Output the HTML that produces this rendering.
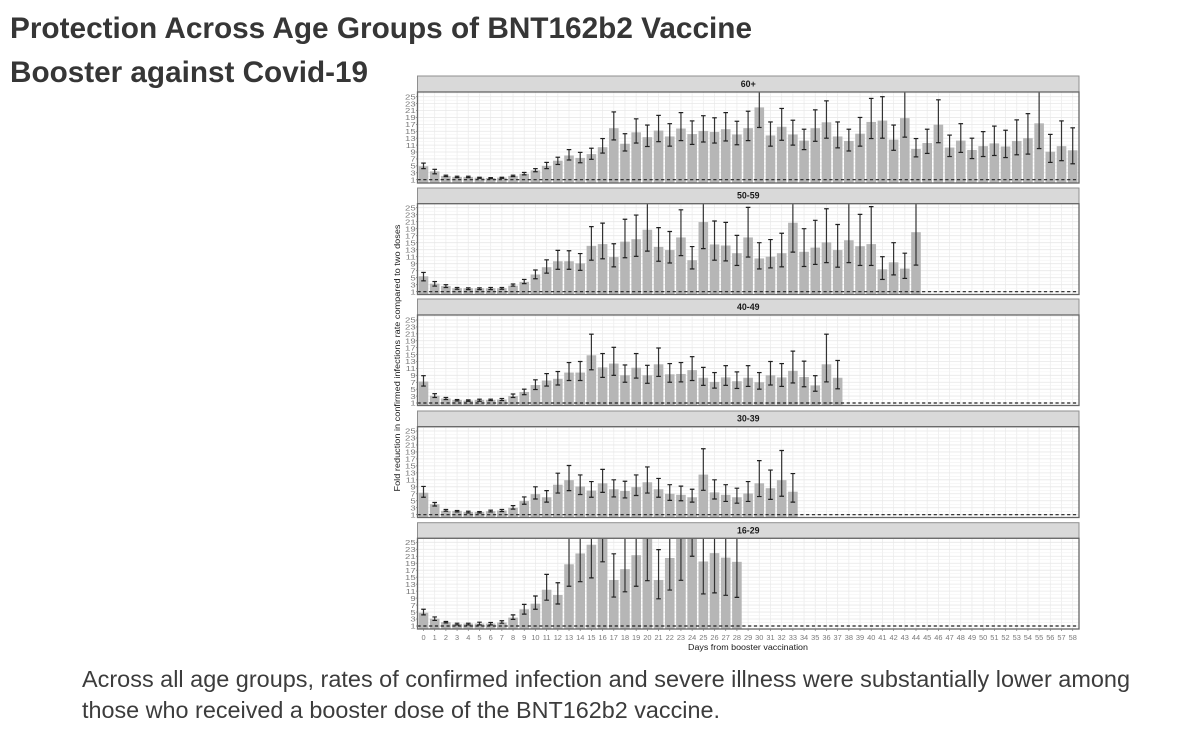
<!DOCTYPE html>
<html lang="en">
<head>
<meta charset="utf-8">
<title>Protection Across Age Groups of BNT162b2 Vaccine Booster against Covid-19</title>
<style>
html,body{margin:0;padding:0;background:#fff;width:1200px;height:730px;overflow:hidden}
svg{display:block;font-family:"Liberation Sans",Arial,sans-serif}
</style>
</head>
<body>
<svg id="slide" width="1200" height="730" viewBox="0 0 1200 730" xmlns="http://www.w3.org/2000/svg">
  <rect x="0" y="0" width="1200" height="730" fill="#ffffff"/>
  <g font-weight="700" font-size="30" fill="#363636">
    <text x="10" y="38" textLength="742" lengthAdjust="spacingAndGlyphs">Protection Across Age Groups of BNT162b2 Vaccine</text>
    <text x="10" y="82" textLength="358" lengthAdjust="spacingAndGlyphs">Booster against Covid-19</text>
  </g>
  <g id="chart"></g>
  <text transform="translate(400,358) rotate(-90)" text-anchor="middle" font-size="8.6" fill="#1a1a1a" textLength="267" lengthAdjust="spacingAndGlyphs">Fold reduction in confirmed infections rate compared to two doses</text>
  <text x="748" y="650" text-anchor="middle" font-size="8.6" fill="#1a1a1a" textLength="120" lengthAdjust="spacingAndGlyphs">Days from booster vaccination</text>
  <g font-size="23" fill="#3c3c3c">
    <text x="82" y="687" textLength="1048" lengthAdjust="spacingAndGlyphs">Across all age groups, rates of confirmed infection and severe illness were substantially lower among</text>
    <text x="82" y="718" textLength="638" lengthAdjust="spacingAndGlyphs">those who received a booster dose of the BNT162b2 vaccine.</text>
  </g>
</svg>
<script>
const days = [0,1,2,3,4,5,6,7,8,9,10,11,12,13,14,15,16,17,18,19,20,21,22,23,24,25,26,27,28,29,30,31,32,33,34,35,36,37,38,39,40,41,42,43,44,45,46,47,48,49,50,51,52,53,54,55,56,57,58];
const yTicks = [1,3,5,7,9,11,13,15,17,19,21,23,25];
const referenceValue = 1;
const ageGroups = ['60+','50-59','40-49','30-39','16-29'];

const mean60 = [4.9,3.4,2.1,1.8,1.8,1.6,1.5,1.6,2.1,2.7,3.7,5,6.5,8,7.3,8.4,10.4,15.9,11.4,14.7,13.3,15.2,13.5,15.8,14.2,15.1,14.8,15.6,14.1,15.9,21.9,13.8,16.3,14.1,12.3,15.9,17.6,13.5,12.2,14.3,17.7,18.1,12.6,18.8,9.9,11.6,16.9,10.3,12.3,9.6,10.7,11.5,10.6,12.2,13,17.3,9.1,10.7,9.5];
const low60 = [4.2,2.7,1.9,1.6,1.6,1.4,1.3,1.4,1.9,2.4,3.3,4.2,5.4,6.7,5.9,6.9,8.7,12.5,9.3,11.6,10.6,12,10.7,12.3,11.2,11.9,11.6,12.2,11.1,12.3,16.1,10.7,12.4,11,9.7,12.1,13,10.2,9.3,10.7,12.9,13,9.5,13.3,7.6,8.6,11.7,7.7,8.9,7.1,7.7,8,7.4,8.2,8.4,10,6,6.5,5.6];
const high60 = [5.8,4,2.3,2,2,1.7,1.6,1.7,2.3,3.1,4.2,6,7.5,9.7,8.9,10.1,12.9,20.6,14.3,18.6,16.8,19.6,17.2,20.4,18,19.5,18.9,20.4,17.9,20.8,27,17.7,21.6,18.2,15.6,21.2,23.8,17.7,15.6,19,24.5,25,16.8,27,12.9,15.6,24.1,13.9,17.2,13,14.9,16.5,15.3,18.3,20.1,27,14.1,18,16];

const mean50 = [5.4,3.3,2.6,2,2,2,2,2,2.7,3.8,5.9,8,9.7,9.7,9.1,14.1,14.6,10.9,15.3,16,18.7,13.8,12.9,16.5,10,20.9,14.5,14.2,12,16.5,10.5,11,12,20.7,12.4,13.6,15.1,12.9,15.7,14,14.6,7.4,9.4,7.6,18];
const low50 = [4.1,2.6,2.2,1.7,1.6,1.6,1.6,1.7,2.6,3.3,4.7,6.3,7.4,7.4,7.1,10,10.4,8.1,10.7,11.1,12.6,9.7,9.2,11.3,7.5,13.3,10,9.8,8.5,10.9,7.5,7.8,8.1,12.3,8.2,8.8,9.3,8,9.3,8.5,8.5,4.5,5.8,4.8,8.6];
const high50 = [6.5,3.9,3,2.2,2.1,2.1,2.2,2.2,3.2,4.5,7.2,10.1,12.8,12.7,11.9,19.6,20.6,14.7,21.7,22.9,27,19.3,18.2,24.4,13.9,27,21.2,20.8,17.1,25.1,15,15.9,17.7,27,19,21.4,24.7,20.2,27,23.1,25.3,11,15,12,27];

const mean40 = [7.2,3.1,2.3,1.9,1.7,1.9,1.9,2,3,4.2,6.2,7.5,8,9.8,9.8,14.8,11.3,12.4,9,11.2,9,12.2,9.3,9.4,10.5,8.3,7.1,8.4,7.3,8.3,7,9,8.4,10.3,8.5,6.1,12.2,8.3];
const low40 = [5.9,2.6,2,1.6,1.5,1.5,1.7,1.7,2.6,3.4,4.9,5.9,6.2,7.5,7.5,10.6,8.4,9,7,8.2,6.7,8.7,7,7.1,7.5,6.1,5.3,6.1,5.2,5.8,5,6.2,5.8,6.8,5.7,4.4,7.1,5.1];
const high40 = [8.9,3.7,2.6,2,1.9,2.1,2.1,2.3,3.6,5,7.7,9.5,10.1,12.7,13,20.9,15.3,17.1,12,15.3,11.9,16.9,12.4,12.7,14.4,11.3,9.8,11.8,10,11.8,9.8,13,12.4,16,13.1,8.9,20.9,13.3];

const mean30 = [7.3,4,2.1,2.1,1.8,1.8,2,2.2,3,4.9,6.9,6,9.6,10.9,9.1,7.9,10,8.3,7.8,8.9,10.3,8.3,7,6.7,6,12.5,7.4,6.7,6,7.1,10,8.6,10.9,7.6];
const low30 = [6,3.5,2,1.8,1.5,1.5,1.8,1.9,2.6,4,5.5,4.6,7.2,7.9,6.8,6,7.4,6.1,5.8,6.5,7.2,6,5.1,5,4.6,8,5.5,4.8,4.3,4.8,6.2,5.4,6.3,4.6];
const high30 = [9.1,4.5,2.5,2.2,2,1.9,2.3,2.5,3.6,6.1,9,7.9,12.9,15.1,12.4,10.5,14,11,10.6,12.4,14.7,11.4,9.6,9.2,8.3,19.9,11,9.6,8.6,10.5,16.5,13.8,19.4,12.8];

const mean16 = [4.8,3.1,2.1,1.6,1.7,1.7,1.7,2,3.4,5.8,7.4,11.4,9.9,18.7,21.8,24.3,27,14.2,17.3,21.3,27,14.2,20.5,27,27,19.5,21.9,20.6,19.4];
const low16 = [4.2,2.6,1.9,1.3,1.3,1.3,1.3,1.8,2.9,4.4,5.8,8.4,7.3,12.4,13.7,14.8,19.4,9.3,10.8,12.4,14,8.8,11.3,14.1,21,10.2,10.5,9.8,9.2];
const high16 = [5.8,3.6,2.3,1.8,1.8,2.1,2,2.5,4.2,7.2,9.6,15.8,13.4,27,27,27,27,21.7,27,27,27,22.9,27,27,27,27,27,27,27];

const meanSeries = [mean60, mean50, mean40, mean30, mean16];
const lowSeries = [low60, low50, low40, low30, low16];
const highSeries = [high60, high50, high40, high30, high16];

/* panel frame: strip top, strip bottom, panel bottom, pixel rows of y=25 and y=1 */
const frames = [
  {s:76,  t:92,  b:183, y25:96.7,  y1:179.7},
  {s:188, t:203.7, b:294.5, y25:207.7, y1:291.7},
  {s:299, t:315, b:405.5, y25:320,  y1:403},
  {s:411, t:426.7, b:517.5, y25:431, y1:514.7},
  {s:522.7, t:538.3, b:629, y25:542.3, y1:626}
];
const panelLeft = 417.5, panelRight = 1079;

const NS = 'http://www.w3.org/2000/svg';
const chart = document.getElementById('chart');
const defs = document.createElementNS(NS, 'defs');
chart.appendChild(defs);

function xScale(day) {
  return 423.5 + (day - days[0]) * (1072.7 - 423.5) / (days[days.length - 1] - days[0]);
}
function yScale(value, f) {
  return f.y1 - (value - 1) * (f.y1 - f.y25) / 24;
}
function make(tag, attrs, parent, text) {
  const el = document.createElementNS(NS, tag);
  for (const k in attrs) el.setAttribute(k, attrs[k]);
  if (text !== undefined) el.textContent = text;
  parent.appendChild(el);
  return el;
}
function seg(x1, y1, x2, y2, stroke, width, parent) {
  return make('line', {x1, y1, x2, y2, stroke, 'stroke-width': width}, parent);
}

ageGroups.forEach((age, p) => {
  const f = frames[p];
  const key = 'panel-' + age.replace('+', '-plus');
  const panel = make('g', {}, chart);
  
  

  const clip = make('clipPath', {id: 'clip' + p}, defs);
  make('rect', {x: panelLeft, y: f.t, width: panelRight - panelLeft, height: f.b - f.t}, clip);

  const strip = make('rect', {x: panelLeft, y: f.s, width: panelRight - panelLeft, height: f.t - f.s, fill: '#d9d9d9', stroke: '#8f8f8f', 'stroke-width': 1}, panel);
  
  
  const label = make('text', {x: (panelLeft + panelRight) / 2, y: f.t - 5, 'text-anchor': 'middle', 'font-size': 8.8, 'font-weight': 700, fill: '#1a1a1a'}, panel, age);
  
  

  const grid = make('g', {}, panel);
  
  
  days.forEach(d => seg(xScale(d), f.t, xScale(d), f.b, '#ececec', 0.8, grid));
  yTicks.forEach(v => {
    seg(panelLeft, yScale(v, f), panelRight, yScale(v, f), '#e8e8e8', 0.8, grid);
    seg(panelLeft, yScale(v + 1, f), panelRight, yScale(v + 1, f), '#f2f2f2', 0.6, grid);
  });

  const marks = make('g', {'clip-path': 'url(#clip' + p + ')'}, panel);
  
  
  const barW = 9.6, capW = 4.6;
  meanSeries[p].forEach((v, i) => {
    const x = xScale(days[i]);
    const top = yScale(v, f);
    const bar = make('rect', {x: x - barW / 2, y: top, width: barW, height: f.b - top, fill: '#b6b6b6'}, marks);
    
    
  });
  const refLine = seg(panelLeft, yScale(referenceValue, f), panelRight, yScale(referenceValue, f), '#1f1f1f', 1.2, marks);
  refLine.setAttribute('stroke-dasharray', '3.2 2.6');
  
  
  meanSeries[p].forEach((v, i) => {
    const x = xScale(days[i]);
    const lo = yScale(lowSeries[p][i], f);
    const hi = yScale(highSeries[p][i], f);
    const eb = make('g', {}, marks);
    
    
    seg(x, hi, x, lo, '#333333', 1.2, eb);
    seg(x - capW / 2, hi, x + capW / 2, hi, '#1f1f1f', 1.2, eb);
    seg(x - capW / 2, lo, x + capW / 2, lo, '#1f1f1f', 1.2, eb);
  });

  const border = make('rect', {x: panelLeft, y: f.t, width: panelRight - panelLeft, height: f.b - f.t, fill: 'none', stroke: '#666666', 'stroke-width': 1.3}, panel);
  
  

  const yAxis = make('g', {}, panel);
  
  
  yTicks.forEach(v => {
    const y = yScale(v, f);
    seg(panelLeft - 1.5, y, panelLeft, y, '#777777', 0.7, yAxis);
    const t = make('text', {transform: 'translate(' + (panelLeft - 1.8) + ',' + (y + 2.7) + ') scale(1.28,1)', 'text-anchor': 'end', 'font-size': 7.5, fill: '#7a7a7a'}, yAxis, v);
    
    
  });
});

const xAxis = make('g', {}, chart);


days.forEach(d => {
  const x = xScale(d);
  seg(x, frames[4].b, x, frames[4].b + 2, '#777777', 0.7, xAxis);
  const t = make('text', {x, y: 640, 'text-anchor': 'middle', 'font-size': 7.4, fill: '#7a7a7a'}, xAxis, d);
  
  
});
</script>
</body>
</html>
